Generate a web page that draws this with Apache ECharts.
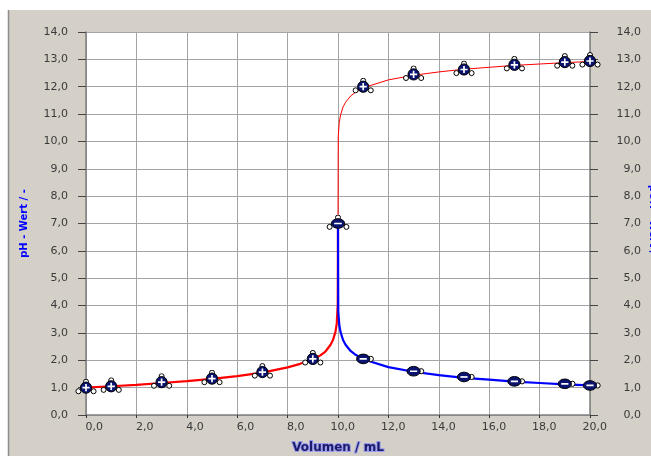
<!DOCTYPE html>
<html><head><meta charset="utf-8">
<script src="https://cdn.jsdelivr.net/npm/echarts@6/dist/echarts.min.js"></script>
<style>html,body{margin:0;padding:0;background:#fff}#c{width:651px;height:456px}</style>
</head><body><div id="c"></div>
<script>
// ---- data ----
const acidX  = [0, 1, 2, 3, 4, 5, 6, 7, 8, 8.5, 9, 9.3, 9.5, 9.6, 9.7, 9.8, 9.9, 9.95, 9.99, 10];
const acidPH = [1.0, 1.05, 1.1, 1.17, 1.24, 1.32, 1.42, 1.55, 1.74, 1.87, 2.04, 2.18, 2.32, 2.44, 2.56, 2.74, 3.04, 3.34, 4.04, 7.0];
const baseX   = [10, 10.01, 10.05, 10.1, 10.2, 10.3, 10.5, 10.7, 11, 12, 13, 14, 15, 16, 17, 18, 19, 20];
const basePH  = [7.0, 10.2, 10.7, 10.96, 11.26, 11.43, 11.66, 11.8, 11.96, 12.25, 12.42, 12.54, 12.64, 12.71, 12.78, 12.83, 12.88, 12.92];
const basePOH = [7.0, 3.8, 3.3, 3.04, 2.74, 2.57, 2.34, 2.2, 2.04, 1.75, 1.58, 1.46, 1.36, 1.29, 1.22, 1.17, 1.12, 1.08];
const cationX  = [0, 1, 3, 5, 7, 9, 11, 13, 15, 17, 19, 20];
const cationPH = [1.0, 1.05, 1.2, 1.33, 1.57, 2.05, 12.0, 12.45, 12.63, 12.8, 12.9, 12.94];
const anionX   = [11, 13, 15, 17, 19, 20];
const anionPOH = [2.05, 1.6, 1.39, 1.23, 1.14, 1.08];
const eqX  = [10];
const eqPH = [7.0];
const xTicks = [0, 2, 4, 6, 8, 10, 12, 14, 16, 18, 20];
const yTicks = [0, 1, 2, 3, 4, 5, 6, 7, 8, 9, 10, 11, 12, 13, 14];

const zip = (a, b) => a.map((v, i) => [v, b[i]]);
const fmt = v => Number(v).toFixed(1).replace('.', ',');
const img = s => 'image://data:image/svg+xml;charset=utf-8,' + encodeURIComponent(s);

const NAVY = '#0a1470';
const cationSvg = "<svg xmlns='http://www.w3.org/2000/svg' width='22' height='18' viewBox='0 0 22 18'>" +
  "<circle cx='11' cy='3' r='2.5' fill='#fff' stroke='#000' stroke-width='1'/>" +
  "<circle cx='3.4' cy='12.6' r='2.5' fill='#fff' stroke='#000' stroke-width='1'/>" +
  "<circle cx='18.6' cy='12.6' r='2.5' fill='#fff' stroke='#000' stroke-width='1'/>" +
  "<circle cx='11' cy='9' r='5.6' fill='" + NAVY + "' stroke='#000' stroke-width='1'/>" +
  "<path d='M7.4 9H14.6M11 5.4V12.6' stroke='#fff' stroke-width='1.7'/></svg>";
const eqSvg = "<svg xmlns='http://www.w3.org/2000/svg' width='24' height='18' viewBox='0 0 24 18'>" +
  "<circle cx='12' cy='3' r='2.5' fill='#fff' stroke='#000' stroke-width='1'/>" +
  "<circle cx='3.6' cy='12.4' r='2.5' fill='#fff' stroke='#000' stroke-width='1'/>" +
  "<circle cx='20.4' cy='12.4' r='2.5' fill='#fff' stroke='#000' stroke-width='1'/>" +
  "<ellipse cx='12' cy='9' rx='6.6' ry='4.8' fill='" + NAVY + "' stroke='#000' stroke-width='1'/>" +
  "<path d='M8.2 9H15.8' stroke='#fff' stroke-width='1.7'/></svg>";
const anionSvg = "<svg xmlns='http://www.w3.org/2000/svg' width='36' height='12' viewBox='0 0 36 12'>" +
  "<circle cx='25.6' cy='6' r='2.6' fill='#fff' stroke='#000' stroke-width='1'/>" +
  "<ellipse cx='18' cy='6' rx='6.6' ry='4.8' fill='" + NAVY + "' stroke='#000' stroke-width='1'/>" +
  "<path d='M14.4 6H21.6' stroke='#fff' stroke-width='1.7'/></svg>";

const FONT = 'DejaVu Sans';
const labelColor = '#3a3a3a';
const gridColor = '#a4a4a4';
const axisColor = '#808080';

const chart = echarts.init(document.getElementById('c'), null, {renderer: 'canvas'});
chart.setOption({
  animation: false,
  backgroundColor: '#D4D0C8',
  graphic: [
    {type: 'rect', shape: {x: 0, y: 0, width: 651, height: 10}, style: {fill: '#fff'}, silent: true, z: -10},
    {type: 'rect', shape: {x: 0, y: 0, width: 8, height: 456}, style: {fill: '#fff'}, silent: true, z: -10},
    {type: 'line', shape: {x1: 8.5, y1: 10, x2: 8.5, y2: 456}, style: {stroke: '#8c8c8c', lineWidth: 1.5}, silent: true, z: -9}
  ],
  grid: {left: 86, right: 61, top: 32, bottom: 41, show: true, backgroundColor: '#fff', borderWidth: 0, outerBoundsMode: 'none'},
  xAxis: {
    type: 'value', min: 0, max: 20, interval: 2,
    name: 'Volumen / mL', nameLocation: 'middle', nameGap: 27, nameMoveOverlap: false,
    nameTextStyle: {fontFamily: FONT, fontSize: 12, fontWeight: 'bold', color: '#1c1c68', textBorderColor: '#9a9af0', textBorderWidth: 2},
    axisLine: {lineStyle: {color: axisColor, width: 1.5}},
    axisTick: {show: true, length: 3, lineStyle: {color: '#333'}},
    axisLabel: {
      margin: 7, align: 'center',
      formatter: v => '{a|' + fmt(v) + '}',
      rich: {a: {width: 34, align: 'right', fontFamily: FONT, fontSize: 11, color: labelColor}},
      fontFamily: FONT, fontSize: 11, color: labelColor,
      customValues: xTicks
    },
    splitLine: {show: true, lineStyle: {color: gridColor, width: 1}}
  },
  yAxis: [
    {
      type: 'value', min: 0, max: 14, interval: 1, position: 'left',
      name: 'pH - Wert / -', nameLocation: 'middle', nameGap: 57, nameRotate: 90, nameMoveOverlap: false,
      nameTextStyle: {fontFamily: FONT, fontSize: 10, fontWeight: 'bold', color: '#0000ff'},
      axisLine: {show: true, lineStyle: {color: axisColor, width: 1.5}},
      axisTick: {show: true, length: 8, lineStyle: {color: '#444'}},
      axisLabel: {margin: 18, formatter: fmt, fontFamily: FONT, fontSize: 11, color: labelColor, customValues: yTicks},
      splitLine: {show: true, lineStyle: {color: gridColor, width: 1}}
    },
    {
      type: 'value', min: 0, max: 14, interval: 1, position: 'right',
      name: 'pOH - Wert / -', nameLocation: 'middle', nameGap: 58, nameRotate: -90, nameMoveOverlap: false,
      nameTextStyle: {fontFamily: FONT, fontSize: 10, fontWeight: 'bold', color: '#0000ff'},
      axisLine: {show: true, lineStyle: {color: axisColor, width: 1.5}},
      axisTick: {show: true, length: 8, lineStyle: {color: '#444'}},
      axisLabel: {margin: 51, align: 'right', formatter: fmt, fontFamily: FONT, fontSize: 11, color: labelColor, customValues: yTicks},
      splitLine: {show: false}
    }
  ],
  series: [
    {type: 'line', yAxisIndex: 0, data: zip(acidX, acidPH), showSymbol: false, lineStyle: {color: '#ff0000', width: 2.2}, z: 3},
    {type: 'line', yAxisIndex: 0, data: zip(baseX, basePH), showSymbol: false, lineStyle: {color: '#ff0000', width: 1}, z: 3},
    {type: 'line', yAxisIndex: 1, data: zip(baseX, basePOH), showSymbol: false, lineStyle: {color: '#0000ff', width: 2.2}, z: 3},
    {type: 'scatter', yAxisIndex: 0, data: zip(cationX, cationPH), symbol: img(cationSvg), symbolSize: [22, 18], itemStyle: {opacity: 1}, clip: false, z: 5},
    {type: 'scatter', yAxisIndex: 1, data: zip(anionX, anionPOH), symbol: img(anionSvg), symbolSize: [36, 12], itemStyle: {opacity: 1}, clip: false, z: 5},
    {type: 'scatter', yAxisIndex: 0, data: zip(eqX, eqPH), symbol: img(eqSvg), symbolSize: [24, 18], itemStyle: {opacity: 1}, clip: false, z: 6}
  ]
});
</script></body></html>
